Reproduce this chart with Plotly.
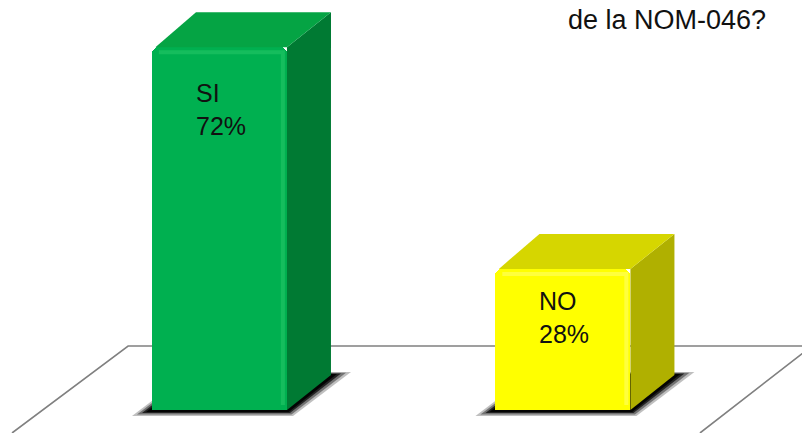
import plotly.graph_objects as go

# Survey answers
categories = ["SI", "NO"]
percent = [72, 28]

# Face colours of each pseudo-3D column
front_colors = ["#00B050", "#FFFF00"]
side_colors = ["#007A33", "#B0B000"]
top_colors = ["#05A444", "#D6D600"]
edge_colors = ["#2BCB6A", "#FFFF7A"]

# How far below the column top each label sits (in % units)
label_drop = [6.0, 3.2]

W, H = 802, 433
x_range = [-0.639, 1.696]
y_range = [-4.56, 81.35]
px_x = W / (x_range[1] - x_range[0])   # pixels per x unit
px_y = H / (y_range[1] - y_range[0])   # pixels per y unit

bar_w = 0.393
dx = 44 / px_x      # depth offset of the extrusion
dy = 35 / px_y
xpos = list(range(len(categories)))

fig = go.Figure()

# Front faces
fig.add_trace(go.Bar(
    x=xpos, y=percent, width=bar_w,
    marker=dict(color=front_colors, line=dict(width=0), cornerradius=7),
    hoverinfo="skip", showlegend=False,
))

shapes = []

# Floor plane outline
floor_back = 12.7
shapes.append(dict(
    type="path", xref="x", yref="y", layer="below",
    path=f"M -0.604,{y_range[0]} L -0.266,{floor_back} L 1.725,{floor_back} L 1.399,{y_range[0]}",
    line=dict(color="#808080", width=1.6),
))

for i, v in enumerate(percent):
    xc = xpos[i]
    xl, xr = xc - bar_w / 2, xc + bar_w / 2

    # Soft drop shadow under the column footprint
    for e, s, op in [(20, 6, 0.25), (15, 4.5, 0.4), (10, 3, 0.7), (6, 2, 0.9)]:
        ex = e / px_x
        sy = s / px_y
        shapes.append(dict(
            type="path", xref="x", yref="y", layer="below",
            path=(f"M {xl - ex},{-sy} L {xr + ex * 0.3},{-sy} "
                  f"L {xr + dx + ex},{dy + sy * 0.5} L {xl + dx - ex * 0.3},{dy + sy * 0.5} Z"),
            fillcolor="black", opacity=op, line=dict(width=0),
        ))

    # Right side face
    fig.add_trace(go.Scatter(
        x=[xr, xr + dx, xr + dx, xr, xr],
        y=[0, dy, v + dy, v, 0],
        fill="toself", fillcolor=side_colors[i], mode="lines",
        line=dict(width=0, color=side_colors[i]),
        hoverinfo="skip", showlegend=False,
    ))
    # Top face
    fig.add_trace(go.Scatter(
        x=[xl + 0.01, xr, xr + dx, xl + dx, xl + 0.01],
        y=[v, v, v + dy, v + dy, v],
        fill="toself", fillcolor=top_colors[i], mode="lines",
        line=dict(width=0, color=top_colors[i]),
        hoverinfo="skip", showlegend=False,
    ))
    # Bevel highlights along the front top and right edges
    fig.add_trace(go.Scatter(
        x=[xl + 0.02, xr - 0.012, xr - 0.012],
        y=[v - 1.0, v - 1.0, 1.0],
        mode="lines", line=dict(width=4, color=edge_colors[i]),
        opacity=0.5, hoverinfo="skip", showlegend=False,
    ))

annotations = []
for i, v in enumerate(percent):
    xl = xpos[i] - bar_w / 2
    annotations.append(dict(
        x=xl + 42 / px_x, y=v - label_drop[i], xref="x", yref="y",
        xanchor="left", yanchor="top", align="left", showarrow=False,
        text=f"{categories[i]}<br>{percent[i]}%",
        font=dict(family="Liberation Sans, Arial, sans-serif", size=25, color="#111111"),
    ))

annotations.append(dict(
    x=768 / W, y=1 - 37 / H, xref="paper", yref="paper",
    xanchor="right", yanchor="bottom", showarrow=False,
    text="de la NOM-046?",
    font=dict(family="Liberation Sans, Arial, sans-serif", size=27, color="#111111"),
))

fig.update_layout(
    width=W, height=H,
    margin=dict(l=0, r=0, t=0, b=0),
    paper_bgcolor="white", plot_bgcolor="white",
    xaxis=dict(range=x_range, visible=False, fixedrange=True),
    yaxis=dict(range=y_range, visible=False, fixedrange=True),
    shapes=shapes, annotations=annotations,
    bargap=0,
)

fig.write_html("out.html")
